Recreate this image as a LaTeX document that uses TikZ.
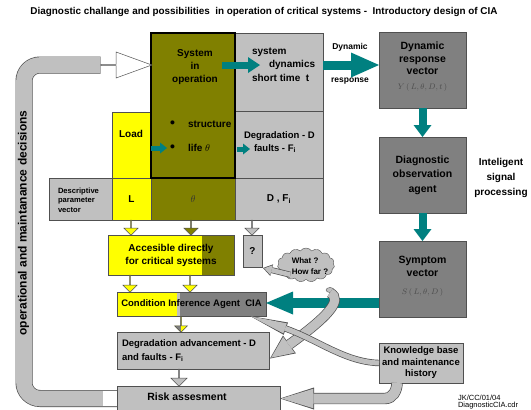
\documentclass[tikz,border=0pt]{standalone}
\usepackage{fontspec}
\setmainfont{Liberation Sans}
\usetikzlibrary{shapes.geometric,shapes.arrows,shapes.symbols,arrows.meta,calc,backgrounds}
\definecolor{sysolive}{RGB}{128,128,0}
\definecolor{sysyellow}{RGB}{255,255,0}
\definecolor{boxlight}{RGB}{192,192,192}
\definecolor{boxdark}{RGB}{128,128,128}
\definecolor{flowteal}{RGB}{0,128,128}
\definecolor{edgegray}{RGB}{80,80,80}
\newcommand{\fs}[2]{\fontsize{#1}{#2}\selectfont}
\newcommand{\bigdot}{\makebox[18pt][l]{\raisebox{-0.5pt}{\fs{14}{14}\textbullet}}}
\tikzset{
  box/.style={
    draw=edgegray,
    line width=0.6pt,
    inner sep=0pt,
    outer sep=0pt,
    align=center,
    font=\bfseries\fs{9.5}{11.5}
  },
  lbl/.style={inner sep=0pt, outer sep=0pt, align=center, font=\bfseries\fs{10}{13}},
  dnarrow/.style={
    single arrow,
    shape border rotate=270,
    draw=edgegray,
    line width=0.5pt,
    inner sep=0pt,
    minimum width=14pt,
    single arrow head extend=4pt,
    single arrow tip angle=90
  },
  tealflow/.style={draw=flowteal, line width=#1},
  bandout/.style={draw=edgegray, line width=#1},
  bandin/.style={draw=boxlight, line width=#1}
}

\begin{document}
\begin{tikzpicture}[x=1pt,y=-1pt]
    \useasboundingbox (0,0) rectangle (531,410);
    \node[lbl, font=\bfseries\fs{9.9}{11}] (title) at (264,12) {Diagnostic challange and possibilities\ \ in operation of critical systems -\ \ Introductory design of CIA};

    % system block
    \node[box, fill=sysyellow, minimum width=39pt, minimum height=66pt] (load) at (131.5,145) {};
    \node[box, fill=boxlight, minimum width=88pt, minimum height=78pt] (dyn) at (279,72) {};
    \node[box, fill=boxlight, minimum width=88pt, minimum height=67pt] (degr) at (279,144.5) {};
    \node[box, fill=boxlight, minimum width=63pt, minimum height=42pt] (desc) at (80.5,199) {};
    \node[box, fill=sysyellow, minimum width=39pt, minimum height=42pt, font=\bfseries\fs{10}{12}] (parL) at (131.5,199) {L};
    \node[box, fill=sysolive, minimum width=84pt, minimum height=42pt, font=\fs{10}{12}] (parT) at (193,199) {\color{black!80}$\theta$};
    \node[box, fill=boxlight, minimum width=88pt, minimum height=42pt, font=\bfseries\fs{10}{12}] (parD) at (279,199) {D , F\textsubscript{i}};
    \node[box, fill=sysolive, draw=black, line width=1.2pt, minimum width=84pt, minimum height=145pt] (sysop) at (193,105.5) {};

    \node[lbl] (sysoptxt) at (195,67) {System\\in\\operation};
    \node[lbl, anchor=west] (struct) at (170,124) {\bigdot structure};
    \node[lbl, anchor=west] (life) at (170,148) {\bigdot life $\theta$};
    \node[lbl, anchor=west, align=left, font=\bfseries\fs{10}{13.5}] (dyntxt) at (252,64.5) {system\\\hspace{17pt}dynamics\\short time\ \ t};
    \node[lbl, anchor=west, align=left, font=\bfseries\fs{9.5}{13}] (degrtxt) at (244,142) {Degradation - D\\\hspace{10pt}faults - F\textsubscript{i}};
    \node[lbl] (loadtxt) at (131,134) {Load};
    \node[lbl, anchor=west, align=left, font=\bfseries\fs{7.6}{9.5}] (desctxt) at (58,200) {Descriptive\\parameter\\vector};

    % accessible and inference
    \node[dnarrow, fill=sysyellow, minimum height=15pt] (arrL) at (131,227.5) {};
    \node[dnarrow, fill=sysolive, minimum height=15pt] (arrT) at (191,227.5) {};
    \node[dnarrow, fill=boxlight, minimum height=15pt] (arrD) at (252,227.5) {};
    \node[box, fill=sysyellow, minimum width=126pt, minimum height=40pt, font=\bfseries\fs{10}{13},
      path picture={\fill[sysolive] ([xshift=-32pt]path picture bounding box.north east) rectangle (path picture bounding box.south east);}] (access) at (171,255) {Accesible directly\\for critical systems};
    \node[box, fill=boxlight, minimum width=19pt, minimum height=32pt, font=\bfseries\fs{10}{12}] (qbox) at (252.5,251) {?};
    \node[dnarrow, fill=sysyellow, minimum height=17pt] (arrA1) at (130,283.5) {};
    \node[dnarrow, fill=sysyellow, minimum height=17pt] (arrA2) at (190,283.5) {};
    \node[box, fill=boxdark, minimum width=149pt, minimum height=24pt,
      path picture={\fill[sysyellow] (path picture bounding box.north west) rectangle ([xshift=60pt]path picture bounding box.south west);
        \fill[boxlight] ([xshift=60pt]path picture bounding box.north west) rectangle ([xshift=63pt]path picture bounding box.south west);}] (cia) at (191.5,304) {Condition Inference Agent\ \ CIA};
    \node[dnarrow, fill=sysyellow, minimum width=13pt, single arrow head extend=3pt, minimum height=16pt,
      path picture={\fill[boxdark] (path picture bounding box.north west) rectangle (path picture bounding box.south);}] (arrC) at (181,324) {};
    \node[box, fill=boxlight, minimum width=152pt, minimum height=37pt] (degadv) at (193,350.5) {};
    \node[lbl, anchor=west, align=left, font=\bfseries\fs{9.5}{14}] (degadvtxt) at (122,350.5) {Degradation advancement - D\\and faults - F\textsubscript{i}};
    \node[dnarrow, fill=boxlight, minimum width=16pt, minimum height=17pt] (arrR) at (179,377.5) {};
    \node[box, fill=boxlight, minimum width=163pt, minimum height=25pt] (risk) at (198.5,398.5) {};
    \node[lbl, font=\bfseries\fs{10.5}{12}] (risktxt) at (187,397) {Risk assesment};

    % diagnostic chain
    \node[box, fill=boxdark, minimum width=87pt, minimum height=76pt] (dynresp) at (422.5,70) {};
    \node[lbl, font=\bfseries\fs{10.5}{12.5}] (dynresptxt) at (422.5,58.5) {Dynamic\\response\\vector};
    \node[lbl, font=\fs{8}{9}, text=black!70] (dynrespeq) at (422.5,87) {$Y\,(\,L,\theta,D,t\,)$};
    \node[box, fill=boxdark, minimum width=87pt, minimum height=76pt, font=\bfseries\fs{10.5}{14.5}] (diag) at (422.5,175) {Diagnostic\\observation\\agent};
    \node[box, fill=boxdark, minimum width=87pt, minimum height=76pt] (sympt) at (422.5,279) {};
    \node[lbl, font=\bfseries\fs{10.5}{13}] (sympttxt) at (422.5,266.5) {Symptom\\vector};
    \node[lbl, font=\fs{8}{9}, text=black!70] (symptq) at (422.5,292) {$S\,(\,L,\theta,D\,)$};
    \node[lbl, font=\bfseries\fs{10}{15}] (isp) at (501,178) {Inteligent\\signal\\processing};
    \node[box, fill=boxlight, minimum width=84pt, minimum height=40pt, font=\bfseries\fs{9.5}{11.5}] (kb) at (421,363) {Knowledge base\\and maintenance\\history};
    \node[lbl, font=\bfseries\fs{8.5}{10}] (dynlbl) at (350,47) {Dynamic};
    \node[lbl, font=\bfseries\fs{8.5}{10}] (resplbl) at (350,81) {response};

    \node[lbl, anchor=west, font=\fs{7.5}{9}] (ref) at (458,398) {JK/CC/01/04};
    \node[lbl, anchor=west, font=\fs{7.5}{9}] (file) at (458,406) {DiagnosticCIA.cdr};

    % thought cloud
    \node[cloud, cloud puffs=15, cloud puff arc=110, aspect=1.7, draw=edgegray, fill=boxlight, minimum width=57pt, minimum height=34pt, inner sep=0pt] (cloud) at (306,265) {};
    \node[lbl, align=left, font=\bfseries\fs{8}{11}] (cloudtxt) at (310,266) {What ?\\How far ?};
    \node[ellipse, draw=edgegray, fill=boxlight, minimum width=8pt, minimum height=5pt, inner sep=0pt] (bubble) at (330,290) {};

    % teal flows
    \draw[tealflow=7pt, -{Triangle[length=12pt,width=16pt,line width=0pt]}] ($(sysop.north east)+(-13,32)$) -- ($(dyn.north west)+(25,32)$);
    \draw[tealflow=9pt, -{Triangle[length=28pt,width=25pt,line width=0pt]}] ($(dyn.east)+(0,-7)$) -- ($(dynresp.west)+(0,-5)$);
    \draw[tealflow=8pt, -{Triangle[length=12pt,width=18pt,line width=0pt]}] (dynresp.south) -- (diag.north);
    \draw[tealflow=8pt, -{Triangle[length=12pt,width=18pt,line width=0pt]}] (diag.south) -- (sympt.north);
    \draw[tealflow=10pt, -{Triangle[length=27pt,width=23pt,line width=0pt]}] ($(sympt.west)+(0,24)$) -- ($(cia.east)+(0,-1)$);
    \draw[tealflow=5pt, -{Triangle[length=7pt,width=11pt,line width=0pt]}] (load.east |- life.west) -- ($(life.west)+(-3,0)$);
    \draw[tealflow=5pt, -{Triangle[length=7pt,width=11pt,line width=0pt]}] ($(degr.west)+(2,4.5)$) -- ($(degr.west)+(15,4.5)$);

    % gray flows
    \draw[bandout=6pt, -{Triangle[length=9pt,width=12pt,line width=0pt]}] ($(cloud.south west)+(4,-2)$) -- ($(qbox.south east)+(1,1)$);
    \draw[bandin=4.6pt, shorten >=1.2pt, -{Triangle[length=7.6pt,width=10pt,line width=0pt]}] ($(cloud.south west)+(4,-2)$) -- ($(qbox.south east)+(1,1)$);
    \draw[bandout=10.4pt, -{Triangle[length=24pt,width=22pt,line width=0pt]}] (bubble.south) .. controls (344,300) and (326,318) .. ($(degadv.east)+(1,8)$);
    \draw[bandin=9pt, shorten >=1.3pt, -{Triangle[length=22pt,width=19.5pt,line width=0pt]}] (bubble.south) .. controls (344,300) and (326,318) .. ($(degadv.east)+(1,8)$);
    \draw[bandout=6.4pt, -{Triangle[length=38pt,width=13pt,line width=0pt]}] (kb.west) .. controls (345,362) and (318,340) .. ($(cia.south east)+(-16,0)$);
    \draw[bandin=5pt, shorten >=1.2pt, -{Triangle[length=36pt,width=10.6pt,line width=0pt]}] (kb.west) .. controls (345,362) and (318,340) .. ($(cia.south east)+(-16,0)$);
    \draw[bandout=11.4pt, -{Triangle[length=34pt,width=22pt,line width=0pt]}] ($(kb.south)+(-24,0)$) to[out=-90,in=0] ($(risk.east)+(105,0)$) -- (risk.east);
    \draw[bandin=10pt, shorten >=1.3pt, -{Triangle[length=32pt,width=19.5pt,line width=0pt]}] ($(kb.south)+(-24,0)$) to[out=-90,in=0] ($(risk.east)+(105,0)$) -- (risk.east);

    % decision loop
    \node[single arrow, draw=edgegray, fill=white, line width=0.5pt, inner sep=0pt, minimum height=51pt, minimum width=26pt, single arrow head extend=5.5pt, single arrow tip angle=40] (retarrow) at (125.5,65) {};
    \begin{scope}[on background layer]
      \draw[bandout=17pt, rounded corners=16pt] (risk.west) -- (24,398.5) -- (24,65) -- (retarrow.west);
      \draw[bandin=15.6pt, rounded corners=16pt] (risk.west) -- (24,398.5) -- (24,65) -- (retarrow.west);
      \fill[white] (103,391.2) rectangle (risk.west |- 0,405.8);
    \end{scope}
    \node[lbl, rotate=90, font=\bfseries\fs{12}{14}] (looplbl) at (23.5,223) {operational and maintanance decisions};
\end{tikzpicture}
\end{document}
